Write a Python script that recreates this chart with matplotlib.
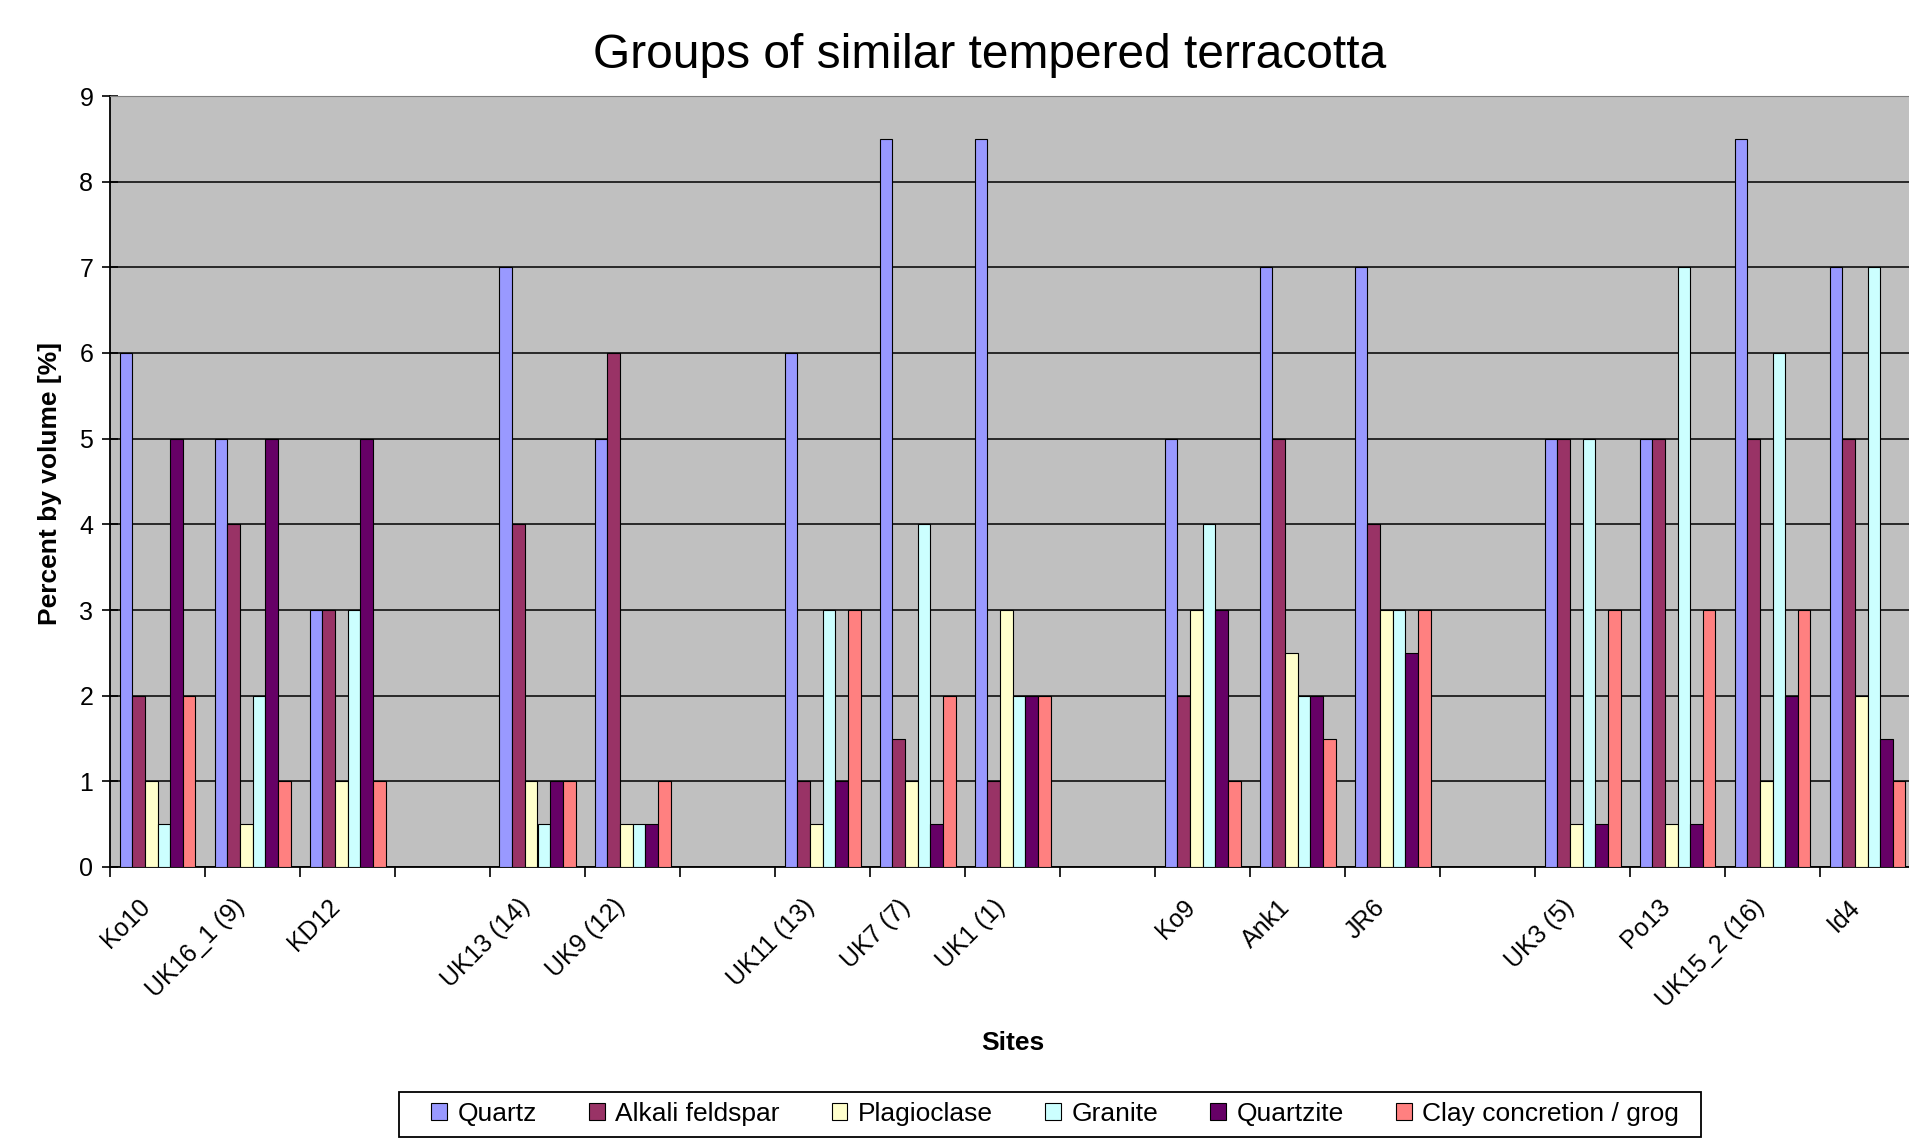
import numpy as np
import matplotlib
matplotlib.use("Agg")
import matplotlib.pyplot as plt
from matplotlib.patches import Rectangle
from matplotlib.transforms import ScaledTranslation

plt.rcParams['font.family'] = ['Liberation Sans', 'DejaVu Sans']

# sites, blanks separate the groups
sites = ['Ko10', 'UK16_1 (9)', 'KD12', '',
         'UK13 (14)', 'UK9 (12)', '',
         'UK11 (13)', 'UK7 (7)', 'UK1 (1)', '',
         'Ko9', 'Ank1', 'JR6', '',
         'UK3 (5)', 'Po13', 'UK15_2 (16)', 'Id4']

quartz     = [6, 5, 3, None, 7, 5, None, 6, 8.5, 8.5, None, 5, 7, 7, None, 5, 5, 8.5, 7]
alkali     = [2, 4, 3, None, 4, 6, None, 1, 1.5, 1, None, 2, 5, 4, None, 5, 5, 5, 5]
plagio     = [1, 0.5, 1, None, 1, 0.5, None, 0.5, 1, 3, None, 3, 2.5, 3, None, 0.5, 0.5, 1, 2]
granite    = [0.5, 2, 3, None, 0.5, 0.5, None, 3, 4, 2, None, 4, 2, 3, None, 5, 7, 6, 7]
quartzite  = [5, 5, 5, None, 1, 0.5, None, 1, 0.5, 2, None, 3, 2, 2.5, None, 0.5, 0.5, 2, 1.5]
clay       = [2, 1, 1, None, 1, 1, None, 3, 2, 2, None, 1, 1.5, 3, None, 3, 3, 3, 1]

series = [quartz, alkali, plagio, granite, quartzite, clay]
names = ['Quartz', 'Alkali feldspar', 'Plagioclase', 'Granite', 'Quartzite',
         'Clay concretion / grog']
colors = ['#9999FF', '#993366', '#FFFFCC', '#CCFFFF', '#660066', '#FF8080']

W, H = 1909, 1142
fig = plt.figure(figsize=(W / 100, H / 100), dpi=100)
# plot area runs a little past the right edge of the figure
left, right, top, bottom = 110, 1915, 96, 867
ax = fig.add_axes([left / W, 1 - bottom / H, (right - left) / W, (bottom - top) / H])
ax.set_facecolor('#C0C0C0')

x = np.arange(len(sites))
w = 1 / 7.5
for i, (vals, name, c) in enumerate(zip(series, names, colors)):
    v = np.array([np.nan if a is None else a for a in vals], dtype=float)
    m = ~np.isnan(v)
    ax.bar(x[m] + (i - 2.5) * w, v[m], width=w, color=c, edgecolor='black',
           linewidth=0.8, label=name, zorder=3)

ax.set_xlim(-0.5, len(sites) - 0.5)
ax.set_ylim(0, 9)
ax.set_yticks(range(10))
ax.yaxis.grid(True, color='black', linewidth=1.1, zorder=1)
ax.set_axisbelow(True)

ax.set_xticks(x)
ax.set_xticklabels(sites, rotation=45, ha='right', va='top', rotation_mode='anchor')
ax.set_xticks(np.arange(-0.5, len(sites)), minor=True)
ax.tick_params(axis='x', which='major', length=0, pad=20, labelsize=18)
ax.tick_params(axis='x', which='minor', length=7, width=1.2, direction='out')
ax.tick_params(axis='y', length=12, width=1.2, direction='inout', pad=6, labelsize=18)
# nudge the slanted labels left
shift = ScaledTranslation(-20 / 100, 0, fig.dpi_scale_trans)
for lab in ax.get_xticklabels():
    lab.set_transform(lab.get_transform() + shift)

for s in ['left', 'bottom']:
    ax.spines[s].set_linewidth(1.3)
    ax.spines[s].set_color('black')
ax.spines['top'].set_color('#808080')
ax.spines['right'].set_color('#808080')

ax.set_ylabel('Percent by volume [%]', fontsize=19, fontweight='bold', va='center')
ax.yaxis.set_label_coords(-0.033, 0.498)
ax.set_xlabel('Sites', fontsize=19, fontweight='bold', va='center')
ax.xaxis.set_label_coords(0.5, -0.228)

fig.text(990 / W, 1 - 55 / H, 'Groups of similar tempered terracotta',
         fontsize=34.5, ha='center', va='center')

# legend entries in one row, with a plain box drawn around them
fig.legend(loc='center', bbox_to_anchor=(1055 / W, 1 - 1114 / H), ncol=6,
           fontsize=19, frameon=False, handlelength=0.6, handleheight=0.6,
           handletextpad=0.4, columnspacing=1.97, borderpad=0.4)
fig.patches.append(Rectangle((399 / W, 1 - 1137 / H), (1701 - 399) / W, 45 / H,
                             transform=fig.transFigure, fill=False,
                             edgecolor='black', linewidth=1.3))

fig.savefig('out.png', dpi=100)
